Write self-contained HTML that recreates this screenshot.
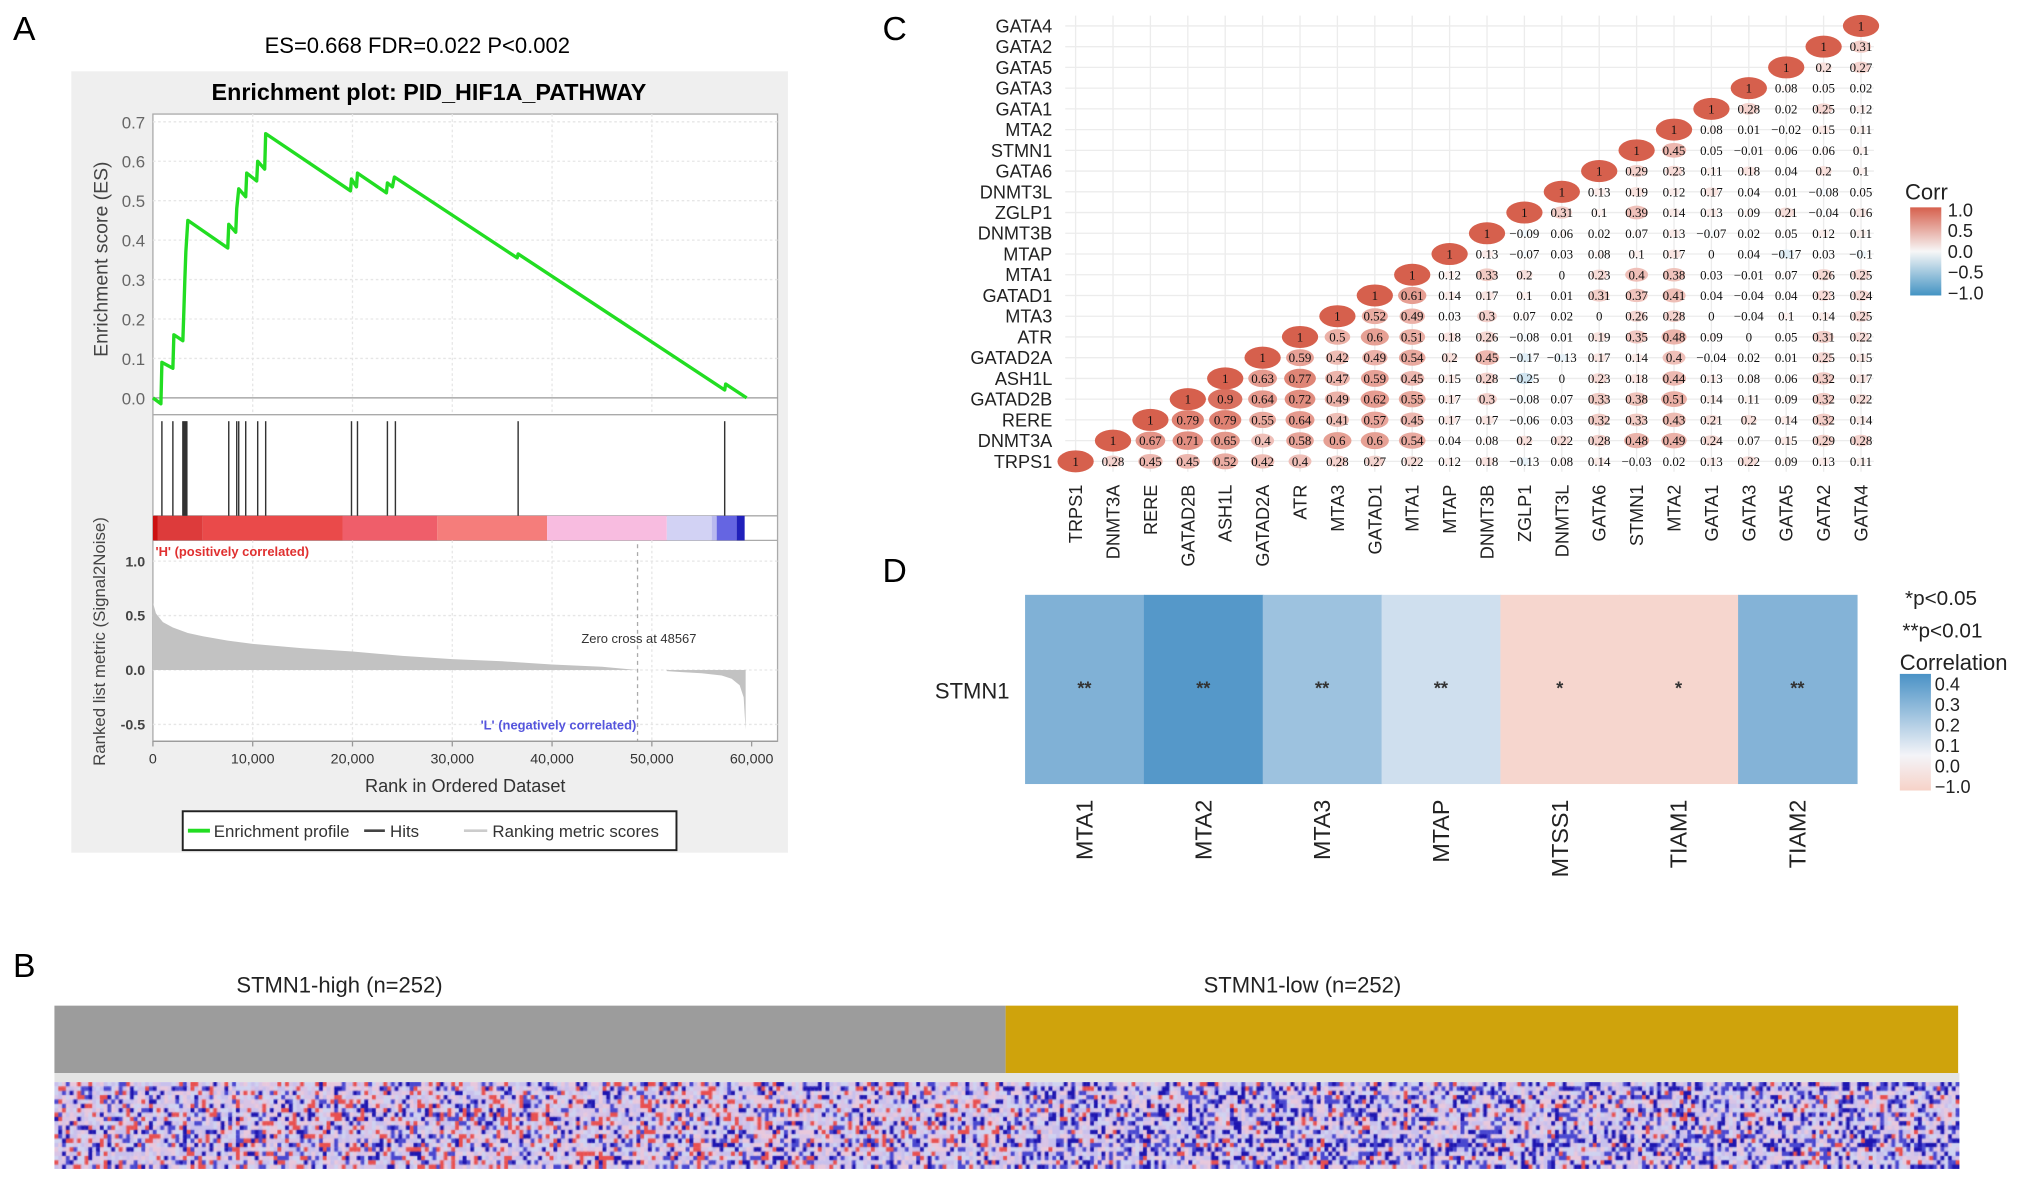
<!DOCTYPE html>
<html><head><meta charset="utf-8">
<style>
html,body{margin:0;padding:0;background:#fff;}
svg{display:block;font-family:"Liberation Sans",sans-serif;}
</style></head>
<body>
<svg id="fig" xmlns="http://www.w3.org/2000/svg" width="2032" height="1181" viewBox="0 0 1568 911.3">
<rect x="0" y="0" width="1568" height="912" fill="#fff"/>
<!-- Panel A static -->
<text x="10" y="31" font-size="26">A</text>
<text x="322" y="41" font-size="17" text-anchor="middle">ES=0.668 FDR=0.022 P&lt;0.002</text>
<rect x="55" y="55" width="553" height="603" fill="#efefef"/>
<text x="331" y="77" font-size="18" font-weight="bold" text-anchor="middle">Enrichment plot: PID_HIF1A_PATHWAY</text>
<g id="gA"></g>
<!-- legend -->
<g>
<rect x="141" y="626" width="381" height="30" fill="#fff" stroke="#222" stroke-width="1.5"/>
<line x1="145" y1="641" x2="162" y2="641" stroke="#22dd22" stroke-width="3"/>
<text x="165" y="646" font-size="13" fill="#333">Enrichment profile</text>
<line x1="281" y1="641" x2="297" y2="641" stroke="#444" stroke-width="2"/>
<text x="301" y="646" font-size="13" fill="#333">Hits</text>
<line x1="358" y1="641" x2="376" y2="641" stroke="#ccc" stroke-width="2"/>
<text x="380" y="646" font-size="13" fill="#333">Ranking metric scores</text>
</g>
<!-- Panel C -->
<text x="681" y="31" font-size="26">C</text>
<g id="gC"></g>
<!-- Panel D -->
<text x="681" y="449" font-size="26">D</text>
<g id="gD"></g>
<!-- Panel B -->
<text x="10" y="754" font-size="26">B</text>
<text x="262" y="766" font-size="17" text-anchor="middle" fill="#222">STMN1-high   (n=252)</text>
<text x="1005" y="766" font-size="17" text-anchor="middle" fill="#222">STMN1-low   (n=252)</text>
<rect x="42" y="776" width="734" height="52" fill="#9c9c9c"/>
<rect x="776" y="776" width="735" height="52" fill="#cfa30c"/>
<rect x="42" y="828" width="1470" height="7" fill="#e4e4e4"/>
<foreignObject x="42" y="835" width="1470" height="67"><canvas xmlns="http://www.w3.org/1999/xhtml" id="hm" width="1470" height="67" style="display:block"></canvas></foreignObject>
</svg>
<script>
const NS="http://www.w3.org/2000/svg";
function mk(parent,tag,attrs,text){const e=document.createElementNS(NS,tag);for(const k in attrs)e.setAttribute(k,attrs[k]);if(text!==undefined)e.textContent=text;parent.appendChild(e);return e;}

// ===== Panel A data =====
const esRanks=[0,800,900,2000,2100,3000,3100,3200,3300,3500,7500,7600,8300,8400,8600,9300,9400,10400,10500,11200,11300,19800,19900,20400,20500,23400,23500,24000,24200,36500,36600,57300,57400,59500];
const esValues=[0,-0.015,0.09,0.075,0.16,0.145,0.22,0.3,0.37,0.45,0.38,0.44,0.42,0.48,0.53,0.51,0.57,0.55,0.6,0.58,0.67,0.525,0.555,0.535,0.57,0.52,0.545,0.535,0.56,0.355,0.365,0.02,0.035,0];
const hitRanks=[900,2000,3000,3100,3200,3300,3400,7600,8400,8600,9300,10500,11300,19900,20500,23500,24300,36600,57300];
const metricRanksPos=[0,300,1000,2000,3500,5000,7500,10000,15000,20000,25000,30000,35000,40000,45000,48567];
const metricValsPos=[0.62,0.52,0.44,0.39,0.34,0.31,0.27,0.24,0.2,0.17,0.13,0.1,0.08,0.05,0.03,0];
const metricRanksNeg=[51500,53000,55000,57000,58000,58800,59200,59400];
const metricValsNeg=[-0.01,-0.02,-0.03,-0.05,-0.08,-0.14,-0.25,-0.55];
const barStarts=[0,500,5000,19000,28500,39500,51500,56000,56500,58500];
const barEnds=[500,5000,19000,28500,39500,51500,56000,56500,58500,59300];
const barColors=["#cc1111","#dd3b3b","#ea4a4a","#ef5e6a","#f57d7b","#f8bce0","#d2d2f4","#b9b9ef","#6565e2","#2020bb"];
const xTicks=[0,10000,20000,30000,40000,50000,60000];
const esTicks=[0,0.1,0.2,0.3,0.4,0.5,0.6,0.7];
const metricTicks=[1.0,0.5,0.0,-0.5];

const X0=118,X1=600;
const xR=r=>118+r/60000*462;
const yES=v=>307-v*304.3;
const yM=v=>517-v*84;
const gA=document.getElementById('gA');
// panels
mk(gA,'rect',{x:X0,y:88,width:X1-X0,height:484,fill:'#fff',stroke:'#aaa',});
mk(gA,'line',{x1:X0,y1:320,x2:X1,y2:320,stroke:'#aaa'});
mk(gA,'line',{x1:X0,y1:398,x2:X1,y2:398,stroke:'#aaa'});
mk(gA,'line',{x1:X0,y1:417,x2:X1,y2:417,stroke:'#aaa'});
// grids
xTicks.forEach(t=>{if(t>0&&t<60000){mk(gA,'line',{x1:xR(t),y1:88,x2:xR(t),y2:320,stroke:'#e6e6e6','stroke-dasharray':'2,2'});mk(gA,'line',{x1:xR(t),y1:417,x2:xR(t),y2:572,stroke:'#e6e6e6','stroke-dasharray':'2,2'});}});
esTicks.forEach(t=>{if(t>0)mk(gA,'line',{x1:X0,y1:yES(t),x2:X1,y2:yES(t),stroke:'#e6e6e6','stroke-dasharray':'2,2'});
 const tl=mk(gA,'text',{x:112,y:yES(t)+5,'font-size':13,'text-anchor':'end',fill:'#666'},t.toFixed(1));
 });
mk(gA,'line',{x1:X0,y1:yES(0),x2:X1,y2:yES(0),stroke:'#999'});
metricTicks.forEach(t=>{mk(gA,'line',{x1:X0,y1:yM(t),x2:X1,y2:yM(t),stroke:'#e6e6e6','stroke-dasharray':'2,2'});
 const tl=mk(gA,'text',{x:112,y:yM(t)+4,'font-size':11,'text-anchor':'end',fill:'#444','font-weight':'bold'},t.toFixed(1));
 });
// color bar
barStarts.forEach((s,i)=>{const r=mk(gA,'rect',{x:xR(s),y:398,width:xR(barEnds[i])-xR(s),height:19,fill:barColors[i]});
 });
// hits
hitRanks.forEach(h=>{const l=mk(gA,'line',{x1:xR(h),y1:325,x2:xR(h),y2:398,stroke:'#333','stroke-width':1.1});
 });
// metric area
let pts=`${xR(0)},${yM(0)} `+metricRanksPos.map((r,i)=>`${xR(r)},${yM(metricValsPos[i])}`).join(' ');
const ap=mk(gA,'polygon',{points:pts,fill:'#c2c2c2'});

let pts2=`${xR(metricRanksNeg[0])},${yM(0)} `+metricRanksNeg.map((r,i)=>`${xR(r)},${yM(metricValsNeg[i])}`).join(' ')+` ${xR(metricRanksNeg[metricRanksNeg.length-1])},${yM(0)}`;
const an=mk(gA,'polygon',{points:pts2,fill:'#c2c2c2'});

mk(gA,'line',{x1:xR(48567),y1:420,x2:xR(48567),y2:572,stroke:'#aaa','stroke-dasharray':'3,3'});
mk(gA,'text',{x:493,y:496,'font-size':10,'text-anchor':'middle',fill:'#333'},'Zero cross at 48567');
mk(gA,'text',{x:120,y:429,'font-size':10,fill:'#e03030','font-weight':'bold'},"'H' (positively correlated)");
mk(gA,'text',{x:491,y:563,'font-size':10,fill:'#5555dd','font-weight':'bold','text-anchor':'end'},"'L' (negatively correlated)");
// ES line
const esl=mk(gA,'polyline',{points:esRanks.map((r,i)=>`${xR(r)},${yES(esValues[i])}`).join(' '),fill:'none',stroke:'#22dd22','stroke-width':2.6,'stroke-linejoin':'round'});

// x axis
mk(gA,'line',{x1:X0,y1:572,x2:X1,y2:572,stroke:'#999'});
xTicks.forEach(t=>{mk(gA,'line',{x1:xR(t),y1:572,x2:xR(t),y2:576,stroke:'#999'});
 const tl=mk(gA,'text',{x:xR(t),y:589,'font-size':11,'text-anchor':'middle',fill:'#333'},t===0?'0':t.toLocaleString('en-US'));
 });
const xt=mk(gA,'text',{x:359,y:611,'font-size':14,'text-anchor':'middle',fill:'#333'},'Rank in Ordered Dataset');

const y1t=mk(gA,'text',{x:0,y:0,'font-size':15,'text-anchor':'middle',fill:'#444',transform:'translate(83,200) rotate(-90)'},'Enrichment score (ES)');

const y2t=mk(gA,'text',{x:0,y:0,'font-size':13,'text-anchor':'middle',fill:'#444',transform:'translate(81,495) rotate(-90)'},'Ranked list metric (Signal2Noise)');


// ===== Panel C data =====
const genes=["TRPS1","DNMT3A","RERE","GATAD2B","ASH1L","GATAD2A","ATR","MTA3","GATAD1","MTA1","MTAP","DNMT3B","ZGLP1","DNMT3L","GATA6","STMN1","MTA2","GATA1","GATA3","GATA5","GATA2","GATA4"];
const corrRows=[
[1,0.28,0.45,0.45,0.52,0.42,0.4,0.28,0.27,0.22,0.12,0.18,-0.13,0.08,0.14,-0.03,0.02,0.13,0.22,0.09,0.13,0.11],
[1,0.67,0.71,0.65,0.4,0.58,0.6,0.6,0.54,0.04,0.08,0.2,0.22,0.28,0.48,0.49,0.24,0.07,0.15,0.29,0.28],
[1,0.79,0.79,0.55,0.64,0.41,0.57,0.45,0.17,0.17,-0.06,0.03,0.32,0.33,0.43,0.21,0.2,0.14,0.32,0.14],
[1,0.9,0.64,0.72,0.49,0.62,0.55,0.17,0.3,-0.08,0.07,0.33,0.38,0.51,0.14,0.11,0.09,0.32,0.22],
[1,0.63,0.77,0.47,0.59,0.45,0.15,0.28,-0.25,0,0.23,0.18,0.44,0.13,0.08,0.06,0.32,0.17],
[1,0.59,0.42,0.49,0.54,0.2,0.45,-0.17,-0.13,0.17,0.14,0.4,-0.04,0.02,0.01,0.25,0.15],
[1,0.5,0.6,0.51,0.18,0.26,-0.08,0.01,0.19,0.35,0.48,0.09,0,0.05,0.31,0.22],
[1,0.52,0.49,0.03,0.3,0.07,0.02,0,0.26,0.28,0,-0.04,0.1,0.14,0.25],
[1,0.61,0.14,0.17,0.1,0.01,0.31,0.37,0.41,0.04,-0.04,0.04,0.23,0.24],
[1,0.12,0.33,0.2,0,0.23,0.4,0.38,0.03,-0.01,0.07,0.26,0.25],
[1,0.13,-0.07,0.03,0.08,0.1,0.17,0,0.04,-0.17,0.03,-0.1],
[1,-0.09,0.06,0.02,0.07,0.13,-0.07,0.02,0.05,0.12,0.11],
[1,0.31,0.1,0.39,0.14,0.13,0.09,0.21,-0.04,0.16],
[1,0.13,0.19,0.12,0.17,0.04,0.01,-0.08,0.05],
[1,0.29,0.23,0.11,0.18,0.04,0.2,0.1],
[1,0.45,0.05,-0.01,0.06,0.06,0.1],
[1,0.08,0.01,-0.02,0.15,0.11],
[1,0.28,0.02,0.25,0.12],
[1,0.08,0.05,0.02],
[1,0.2,0.27],
[1,0.31],
[1]];
const corrTicks=["1.0","0.5","0.0","\u22120.5","\u22121.0"];
const gC=document.getElementById('gC');
const cx=j=>830+j*28.86, cy=i=>356-i*16;
function corrColor(v){ // blend white -> red / white -> blue
 const a=Math.min(1,Math.abs(v)); const t=v>=0?[214,96,77]:[67,147,195];
 const c=t.map(k=>Math.round(255+(k-255)*a)); return `rgb(${c[0]},${c[1]},${c[2]})`;}
genes.forEach((g,i)=>{
 mk(gC,'line',{x1:cx(i),y1:12,x2:cx(i),y2:364,stroke:'#ececec'});
 mk(gC,'line',{x1:822,y1:cy(i),x2:1446,y2:cy(i),stroke:'#ececec'});
 const rl=mk(gC,'text',{x:812,y:cy(i)+5,'font-size':14,'text-anchor':'end',fill:'#222','font-family':'"Liberation Sans Narrow","Liberation Sans",sans-serif'},g);
 
 const cl=mk(gC,'text',{x:0,y:0,'font-size':14,'text-anchor':'end',fill:'#222',transform:`translate(${cx(i)+5},374) rotate(-90)`},g);
 
});
corrRows.forEach((row,i)=>{row.forEach((v,k)=>{const j=i+k;const s=Math.sqrt(Math.abs(v));
 const e=mk(gC,'ellipse',{cx:cx(j),cy:cy(i),rx:14*s,ry:8.5*s,fill:corrColor(v)});
 
 const txt=v===1?'1':(v===0?'0':(v<0?'\u2212':'')+String(Math.abs(v)).replace(/^0/,'0'));
 mk(gC,'text',{x:cx(j),y:cy(i)+3.5,'font-size':10,'text-anchor':'middle',fill:'#111','font-family':'"Liberation Serif",serif'},txt);
});});
// corr legend
const defs=mk(document.getElementById('fig'),'defs',{});
const lg=mk(defs,'linearGradient',{id:'cg',x1:0,y1:0,x2:0,y2:1});
[[0,'#d6604d'],[0.5,'#f7f7f7'],[1,'#4393c3']].forEach(s=>mk(lg,'stop',{offset:s[0],'stop-color':s[1]}));
const clg=mk(gC,'g',{});
mk(clg,'text',{x:1470,y:154,'font-size':17,fill:'#222'},'Corr');
mk(clg,'rect',{x:1474,y:160,width:24,height:68,fill:'url(#cg)'});
corrTicks.forEach((t,k)=>mk(clg,'text',{x:1503,y:167+k*16,'font-size':14,fill:'#222'},t));

// ===== Panel D data =====
const dGenes=["MTA1","MTA2","MTA3","MTAP","MTSS1","TIAM1","TIAM2"];
const dValues=[0.3,0.42,0.22,0.08,-0.12,-0.12,0.29];
const dStars=["**","**","**","**","*","*","**"];
const dTicks=["0.4","0.3","0.2","0.1","0.0","\u22121.0"];
const gD=document.getElementById('gD');
const dx=j=>791+j*91.7;
function dColor(v){if(v>=0){const a=Math.min(1,v/0.45);const t=[74,146,198];const b=[236,240,247];
 const c=b.map((k,i)=>Math.round(k+(t[i]-k)*a));return `rgb(${c[0]},${c[1]},${c[2]})`;}
 return 'rgb(246,214,206)';}
dGenes.forEach((g,j)=>{
 const r=mk(gD,'rect',{x:dx(j),y:459,width:92.2,height:146,fill:dColor(dValues[j])});
 
 mk(gD,'text',{x:dx(j)+45.8,y:536,'font-size':14,'text-anchor':'middle',fill:'#333','font-weight':'bold'},dStars[j]);
 const l=mk(gD,'text',{x:0,y:0,'font-size':18,'text-anchor':'end',fill:'#222',transform:`translate(${dx(j)+52},617) rotate(-90)`},g);
 
});
const sl=mk(gD,'text',{x:779,y:539,'font-size':17,'text-anchor':'end',fill:'#222'},'STMN1');

const lg2=mk(defs,'linearGradient',{id:'dg',x1:0,y1:0,x2:0,y2:1});
[[0,'#4a92c6'],[0.7,'#f4f4f8'],[1,'#f6d2c8']].forEach(s=>mk(lg2,'stop',{offset:s[0],'stop-color':s[1]}));
const dlg=mk(gD,'g',{});
mk(dlg,'text',{x:1470,y:467,'font-size':16,fill:'#222'},'*p<0.05');
mk(dlg,'text',{x:1468,y:492,'font-size':16,fill:'#222'},'**p<0.01');
mk(dlg,'text',{x:1466,y:517,'font-size':17,fill:'#222'},'Correlation');
mk(dlg,'rect',{x:1466,y:520,width:24,height:90,fill:'url(#dg)'});
dTicks.forEach((t,k)=>mk(dlg,'text',{x:1493,y:533+k*15.8,'font-size':14,fill:'#222'},t));

// ===== Panel B heatmap texture (deterministic) =====
const hmRowBias=[0.5,0.62,0.45,0.5,0.48,0.42,0.5,0.46,0.52,0.48,0.45,0.5,0.48,0.68,0.7,0.5,0.45,0.48,0.5,0.45];
const cv=document.getElementById('hm');const ctx=cv.getContext('2d');
const nCols=504,nRows=hmRowBias.length,cw=1470/nCols,ch=67/nRows;
let seed=12345;function rnd(){seed=(seed*1103515245+12345)%2147483648;return seed/2147483648;}
for(let r=0;r<nRows;r++)for(let c=0;c<nCols;c++){
 const low=c>=252;const u=rnd();const pb=hmRowBias[r]*(low?1.15:0.75)*0.55;
 let col;
 if(u<pb)col=u<pb*0.5?'#1e16b0':'#4a48d0';
 else if(u<pb+(low?0.06:0.14))col='#e85050';
 else col=['#d8c4e6','#c8c0ec','#e8c8dc','#cfd2f0'][Math.floor(rnd()*4)];
 ctx.fillStyle=col;ctx.fillRect(c*cw,r*ch,cw+0.5,ch+0.5);}
</script>
</body></html>
